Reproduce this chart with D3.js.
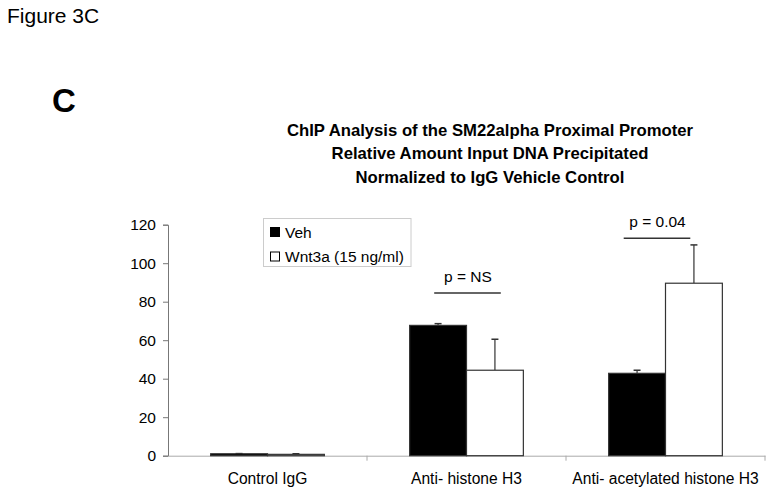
<!DOCTYPE html>
<html><head><meta charset="utf-8">
<script src="https://cdn.jsdelivr.net/npm/d3@7/dist/d3.min.js"></script>
<style>body{margin:0;background:#fff}svg{display:block}text{font-family:"Liberation Sans",Arial,sans-serif}</style>
</head><body><svg id="c" width="774" height="496"></svg>
<script>
const categories = ["Control IgG", "Anti- histone H3", "Anti- acetylated histone H3"];
const seriesNames = ["Veh", "Wnt3a (15 ng/ml)"];
const vehValues = [1.0, 67.7, 42.8];
const vehErrors = [0.1, 0.9, 1.6];
const wntValues = [0.7, 44.4, 89.6];
const wntErrors = [0.3, 16.1, 19.9];
const yTicks = [0, 20, 40, 60, 80, 100, 120];
const pLabels = ["", "p = NS", "p = 0.04"];
const pLevels = [null, 84.5, 113];
const titleLines = ["ChIP Analysis of the SM22alpha Proximal Promoter", "Relative Amount Input DNA Precipitated", "Normalized to IgG Vehicle Control"];

(function () {
const svg = d3.select("#c");
const pLeft = 168, pRight = 765, pTop = 224.7, pBottom = 455.7;
const x = d3.scaleBand().domain(categories).range([pLeft, pRight]).paddingInner(0).paddingOuter(0);
const xs = d3.scaleBand().domain([0,1]).range([0, x.bandwidth()]).paddingInner(0).paddingOuter(0.75);
const y = d3.scaleLinear().domain([0, 120]).range([pBottom, pTop]);

svg.append("text").attr("x", 7).attr("y", 23).attr("font-size", 21).text("Figure 3C");
svg.append("text").attr("x", 52).attr("y", 112).attr("font-size", 33).attr("font-weight", "bold").text("C");
titleLines.forEach((t, i) => svg.append("text").attr("x", 490).attr("y", 135.5 + i * 23.5)
  .attr("text-anchor", "middle").attr("font-size", 16.7).attr("font-weight", "bold").text(t));

const ya = svg.append("g").attr("transform", `translate(${pLeft},0)`)
  .call(d3.axisLeft(y).tickValues(yTicks).tickSize(5).tickPadding(7));
ya.select(".domain").attr("stroke", "#777");
ya.selectAll(".tick line").attr("stroke", "#777");
ya.selectAll(".tick text").attr("font-size", 15.5).attr("fill", "#000").attr("font-family", "Liberation Sans, Arial, sans-serif");

const xa = svg.append("g").attr("transform", `translate(0,${pBottom})`)
  .call(d3.axisBottom(x).tickSize(0).tickPadding(17));
xa.select(".domain").attr("stroke", "#aaa");
xa.selectAll(".tick text").attr("font-size", 15.6).attr("fill", "#000").attr("font-family", "Liberation Sans, Arial, sans-serif");
svg.append("g").selectAll("line").data(categories).join("line")
  .attr("x1", d => x(d) + x.bandwidth()).attr("x2", d => x(d) + x.bandwidth())
  .attr("y1", pBottom).attr("y2", pBottom + 5).attr("stroke", "#aaa");

const series = [
  {vals: vehValues, errs: vehErrors, fill: "#000"},
  {vals: wntValues, errs: wntErrors, fill: "#fff"}
];
series.forEach((s, si) => {
  const g = svg.append("g");
  const cxf = d => x(d) + xs(si) + xs.bandwidth() / 2;
  g.selectAll("line.e").data(categories).join("line").attr("class", "e")
    .attr("x1", cxf).attr("x2", cxf)
    .attr("y1", (d, i) => y(s.vals[i])).attr("y2", (d, i) => y(s.vals[i] + s.errs[i]))
    .attr("stroke", "#333").attr("stroke-width", 1.2);
  g.selectAll("line.c").data(categories).join("line").attr("class", "c")
    .attr("x1", d => cxf(d) - 3.5).attr("x2", d => cxf(d) + 3.5)
    .attr("y1", (d, i) => y(s.vals[i] + s.errs[i])).attr("y2", (d, i) => y(s.vals[i] + s.errs[i]))
    .attr("stroke", "#333").attr("stroke-width", 1.5);
  g.selectAll("rect").data(categories).join("rect")
    .attr("x", d => x(d) + xs(si)).attr("width", xs.bandwidth())
    .attr("y", (d, i) => y(s.vals[i])).attr("height", (d, i) => y(0) - y(s.vals[i]))
    .attr("fill", s.fill).attr("stroke", "#333").attr("stroke-width", 1.2);
});

// annotation placement tweaks (layout only)
const pShift = [0, 1, -8.5];
categories.forEach((c, i) => {
  if (!pLabels[i]) return;
  const cx = x(c) + x.bandwidth() / 2 + pShift[i];
  svg.append("line").attr("x1", cx - 33.3).attr("x2", cx + 33.3)
    .attr("y1", y(pLevels[i])).attr("y2", y(pLevels[i])).attr("stroke", "#333").attr("stroke-width", 1.5);
  svg.append("text").attr("x", cx + 0.5).attr("y", y(pLevels[i]) - 11.3).attr("text-anchor", "middle")
    .attr("font-size", 15.5).text(pLabels[i]);
});

const lg = svg.append("g");
lg.append("rect").attr("x", 263.5).attr("y", 218.5).attr("width", 147.5).attr("height", 48)
  .attr("fill", "#fff").attr("stroke", "#ccc");
seriesNames.forEach((n, i) => {
  lg.append("rect").attr("x", 270.5).attr("y", 227.5 + i * 24.5).attr("width", 9).attr("height", 9)
    .attr("fill", series[i].fill).attr("stroke", "#000");
  lg.append("text").attr("x", 285).attr("y", 237.5 + i * 24.5).attr("font-size", 15.5).text(n);
});
})();
</script></body></html>
